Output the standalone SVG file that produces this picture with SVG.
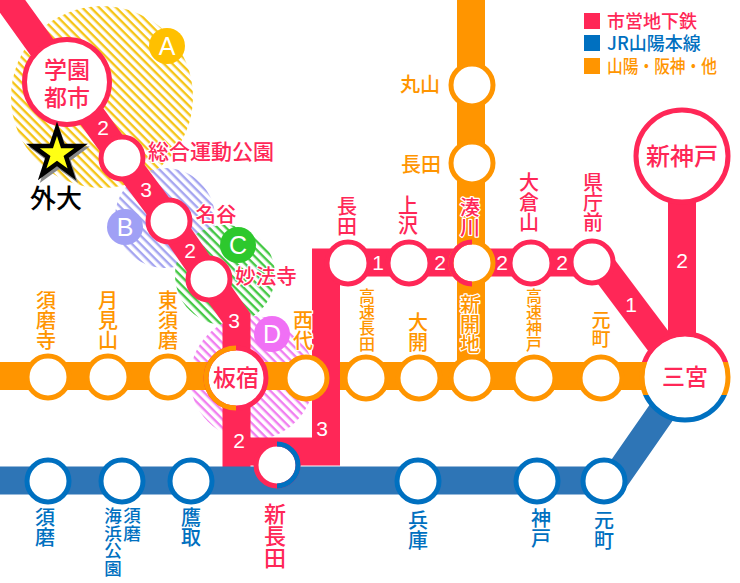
<svg xmlns="http://www.w3.org/2000/svg" width="740" height="583" viewBox="0 0 740 583">
<style>
text{font-family:"Noto Sans CJK JP","Noto Sans",sans-serif;font-weight:500;text-anchor:middle}
text.v{writing-mode:vertical-rl;text-anchor:start}
.p{fill:#ff2757}.o{fill:#ff9500}.b{fill:#0070c0}
.h{stroke:#fff;stroke-width:2.5;paint-order:stroke;stroke-linejoin:round}
.n{fill:#fff;font-family:"Liberation Sans",sans-serif;font-size:21px}
.l{font-family:"Liberation Sans",sans-serif;font-size:25px;fill:#fff}
.st{fill:#fff;stroke-width:5}
.sp{stroke:#ff2757}.so{stroke:#ff9500}.sb{stroke:#0070c0}
.ln{fill:none;stroke-width:28;stroke-linejoin:miter}
.arc{fill:none;stroke-width:5}
</style>
<defs>
<pattern id="hA" width="6" height="6" patternUnits="userSpaceOnUse" patternTransform="rotate(45)"><rect width="6" height="2.400" fill="#f5c518"/></pattern>
<pattern id="hB" width="6" height="6" patternUnits="userSpaceOnUse" patternTransform="rotate(45)"><rect width="6" height="2.400" fill="#a5a5f0"/></pattern>
<pattern id="hC" width="6" height="6" patternUnits="userSpaceOnUse" patternTransform="rotate(45)"><rect width="6" height="2.400" fill="#45c845"/></pattern>
<pattern id="hD" width="6" height="6" patternUnits="userSpaceOnUse" patternTransform="rotate(45)"><rect width="6" height="2.400" fill="#f080f0"/></pattern>
<clipPath id="c1"><rect x="630" y="320" width="110" height="42"/></clipPath>
<clipPath id="c2"><rect x="630" y="362" width="110" height="33"/></clipPath>
<clipPath id="c3"><rect x="630" y="395" width="110" height="40"/></clipPath>
</defs>
<g id="areas">
<circle cx="102" cy="97" r="91" fill="url(#hA)"/>
<circle cx="165" cy="218" r="50" fill="url(#hB)"/>
<circle cx="225" cy="275" r="50" fill="url(#hC)"/>
<circle cx="252" cy="378" r="62" fill="url(#hD)"/>
</g>
<g id="connectors">
<path class="ln" stroke="#ff9500" d="M0 376H686"/>
<path class="ln" stroke="#ff2757" d="M-10 -25L67 82L122 158L169 221L209 279L236.500 318V470"/>
<path class="ln" stroke="#ff2757" d="M236 451.500H326V262.500H592"/>
<path class="ln" stroke="#ff2757" d="M599 262L686 378"/>
<path class="ln" stroke="#ff2757" d="M682 156V378"/>
<path class="ln" stroke="#ff9500" d="M471 0V378"/>
<path class="ln" stroke="#2e75b6" style="stroke-linejoin:round" d="M0 480.500H614L686 377"/>
</g>
<g id="sec-labels">
<text class="n" x="103" y="135">2</text>
<text class="n" x="146" y="197">3</text>
<text class="n" x="190" y="258">2</text>
<text class="n" x="234" y="328">3</text>
<text class="n" x="239" y="448">2</text>
<text class="n" x="322" y="436">3</text>
<text class="n" x="378" y="270">1</text>
<text class="n" x="440" y="270">2</text>
<text class="n" x="502" y="270">2</text>
<text class="n" x="562" y="270">2</text>
<text class="n" x="631" y="312">1</text>
<text class="n" x="682" y="268">2</text>
</g>
<g id="st-gakuen"><circle class="st sp" cx="67" cy="82" r="42.500"/>
<text class="p" font-size="23" x="67" y="78">学園</text><text class="p" font-size="23" x="67" y="106">都市</text></g>
<g id="st-sogo"><circle class="st sp" cx="122" cy="158" r="21"/><text class="p h" font-size="21" x="211" y="159">総合運動公園</text></g>
<g id="st-myodani"><circle class="st sp" cx="169" cy="221" r="21"/><text class="p h" font-size="20.500" x="216" y="222">名谷</text></g>
<g id="st-myohoji"><circle class="st sp" cx="209" cy="279" r="21"/><text class="p h" font-size="20.500" x="266" y="284">妙法寺</text></g>
<g id="st-itayado"><circle class="st sp" cx="236" cy="378" r="30"/><path class="arc so" d="M236 348A30 30 0 0 0 236 408"/>
<text class="p" font-size="23" x="236" y="386">板宿</text></g>
<g id="st-nishidai"><circle class="st so" cx="306" cy="378" r="21"/>
<text class="v o h" font-size="20" x="303" y="310">西代</text></g>
<g id="st-shinnagata"><circle class="st sp" cx="277" cy="465" r="21"/><path class="arc sb" d="M277 444A21 21 0 0 1 277 486"/>
<text class="v p" font-size="22" x="275" y="503">新長田</text></g>
<g id="st-sumadera"><circle class="st so" cx="48" cy="377" r="21"/>
<text class="v o" font-size="20" x="46" y="290">須磨寺</text></g>
<g id="st-tsukimiyama"><circle class="st so" cx="108" cy="377" r="21"/>
<text class="v o" font-size="20" x="108" y="290">月見山</text></g>
<g id="st-higashisuma"><circle class="st so" cx="168" cy="377" r="21"/>
<text class="v o" font-size="20" x="168" y="290">東須磨</text></g>
<g id="st-kosokunagata"><circle class="st so" cx="366" cy="378" r="21"/>
<text class="v o" font-size="16" x="367" y="288">高速長田</text></g>
<g id="st-daikai"><circle class="st so" cx="419" cy="378" r="21"/>
<text class="v o" font-size="20" x="418" y="312">大開</text></g>
<g id="st-shinkaichi"><circle class="st so" cx="472" cy="378" r="21"/>
<text class="v o h" font-size="20" x="470" y="294">新開地</text></g>
<g id="st-kosokukobe"><circle class="st so" cx="534" cy="378" r="21"/>
<text class="v o" font-size="16" x="534" y="288">高速神戸</text></g>
<g id="st-motomachi-o"><circle class="st so" cx="601" cy="378" r="21"/>
<text class="v o" font-size="19" x="601" y="310">元町</text></g>
<g id="st-maruyama"><circle class="st so" cx="472" cy="85" r="21"/><text class="o" font-size="20" x="420" y="92">丸山</text></g>
<g id="st-nagata-o"><circle class="st so" cx="472" cy="163" r="21"/><text class="o" font-size="20" x="421" y="172">長田</text></g>
<g id="st-nagata-p"><circle class="st sp" cx="348" cy="263" r="21"/>
<text class="v p" font-size="20" x="347" y="196">長田</text></g>
<g id="st-kamisawa"><circle class="st sp" cx="409" cy="263" r="21"/>
<text class="v p" font-size="20" x="408" y="195">上沢</text></g>
<g id="st-minatogawa"><circle class="st so" cx="472" cy="263" r="21"/><path class="arc sp" d="M472 242A21 21 0 0 0 472 284"/>
<text class="v p h" font-size="20" x="470" y="197">湊川</text></g>
<g id="st-okurayama"><circle class="st sp" cx="531" cy="263" r="21"/>
<text class="v p" font-size="20" x="529" y="172">大倉山</text></g>
<g id="st-kenchomae"><circle class="st sp" cx="592" cy="262" r="21"/>
<text class="v p" font-size="20" x="593" y="172">県庁前</text></g>
<g id="st-shinkobe"><circle class="st sp" cx="682" cy="156" r="46"/><text class="p" font-size="24" x="682" y="165">新神戸</text></g>
<g id="st-sannomiya">
<circle cx="685" cy="377" r="41" fill="#fff"/>
<g fill="none" stroke-width="5"><circle class="sp" cx="685" cy="377" r="43" clip-path="url(#c1)"/><circle class="so" cx="685" cy="377" r="43" clip-path="url(#c2)"/><circle class="sb" cx="685" cy="377" r="43" clip-path="url(#c3)"/></g>
<text class="p" font-size="23" x="685" y="385">三宮</text></g>
<g id="st-suma"><circle class="st sb" cx="48" cy="481" r="21"/>
<text class="v b" font-size="20" x="45" y="507">須磨</text></g>
<g id="st-suma-kaihin"><circle class="st sb" cx="122" cy="481" r="21"/>
<text class="v b" font-size="17.500" x="113" y="507">海浜公園</text><text class="v b" font-size="17.500" x="132" y="507">須磨</text></g>
<g id="st-takatori"><circle class="st sb" cx="191" cy="481" r="21"/>
<text class="v b" font-size="20" x="191" y="507">鷹取</text></g>
<g id="st-hyogo"><circle class="st sb" cx="418" cy="481" r="21"/>
<text class="v b" font-size="20" x="418" y="510">兵庫</text></g>
<g id="st-kobe"><circle class="st sb" cx="537" cy="481" r="21"/>
<text class="v b" font-size="20" x="541" y="508">神戸</text></g>
<g id="st-motomachi-b"><circle class="st sb" cx="604" cy="481" r="21"/>
<text class="v b" font-size="20" x="604" y="510">元町</text></g>
<g id="badges">
<g id="badge-a"><circle cx="167" cy="46" r="18" fill="#ffc000"/><text class="l" x="167" y="55">A</text></g>
<g id="badge-b"><circle cx="125" cy="227" r="18" fill="#a0a0f5"/><text class="l" x="125" y="236">B</text></g>
<g id="badge-c"><circle cx="238" cy="245" r="18" fill="#2dc82d"/><text class="l" x="238" y="254">C</text></g>
<g id="badge-d"><circle cx="272" cy="334" r="18" fill="#f070f5"/><text class="l" x="272" y="343">D</text></g>
</g>
<g id="gaidai">
<polygon transform="translate(6.700 16.300) scale(.9)" points="57,128 64.300,147.300 84.600,147.300 68.200,159.300 74.500,178.700 58,166.700 41.500,178.700 47.800,159.300 31.400,147.300 51.700,147.300" fill="#888" stroke="#888" stroke-width="5" stroke-linejoin="miter"/>
<polygon transform="translate(5.700 15.300) scale(.9)" points="57,126 63.300,145.300 83.600,145.300 67.200,157.300 73.500,176.700 57,164.700 40.500,176.700 46.800,157.300 30.400,145.300 50.700,145.300" fill="#ffff14" stroke="#000" stroke-width="5" stroke-linejoin="miter"/>
<text font-size="26" x="56" y="208" fill="#000">外大</text>
</g>
<g id="legend">
<rect x="584" y="13" width="16" height="16" class="p"/><text class="p" font-size="18" x="607" y="28" style="text-anchor:start">市営地下鉄</text>
<rect x="584" y="35" width="16" height="16" class="b"/><text class="b" font-size="18" x="607" y="50" style="text-anchor:start">JR山陽本線</text>
<rect x="584" y="58" width="16" height="16" class="o"/><text class="o" font-size="18" x="607" y="73" style="text-anchor:start" textLength="110" lengthAdjust="spacingAndGlyphs">山陽・阪神・他</text>
</g>
</svg>
